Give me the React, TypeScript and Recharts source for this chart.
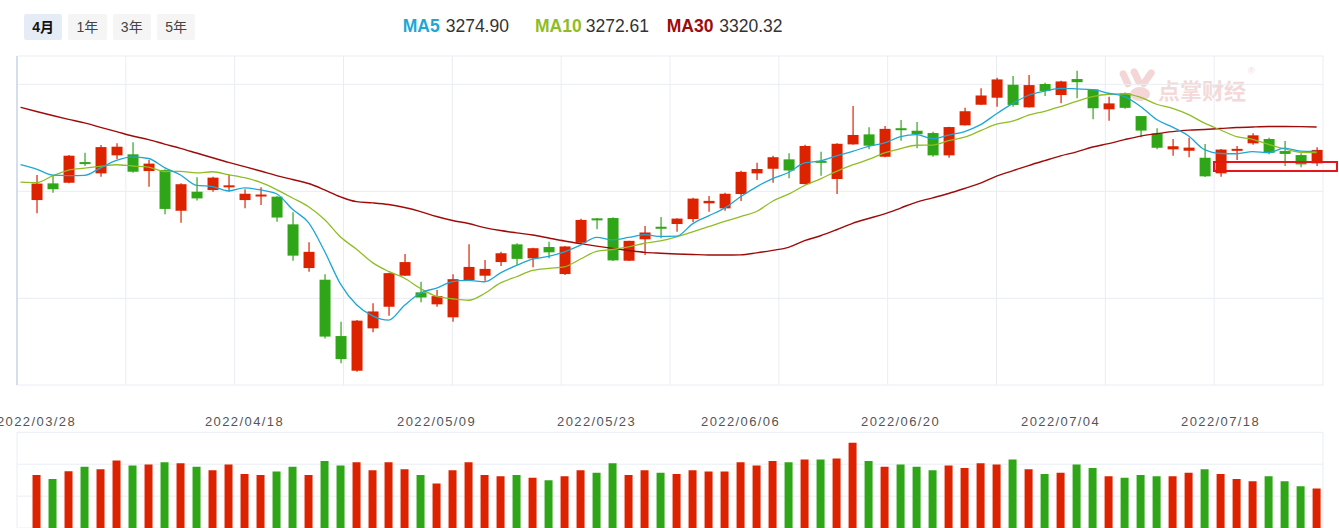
import React from 'react';
import { ComposedChart, Bar, Line, XAxis, YAxis, CartesianGrid, Cell, ReferenceLine } from 'recharts';

// ---- data (Shanghai index daily candles, 2022/03/28 - 2022/07/26) ----
const dates = [
  '2022/03/28','2022/03/29','2022/03/30','2022/03/31','2022/04/01','2022/04/06','2022/04/07','2022/04/08','2022/04/11','2022/04/12',
  '2022/04/13','2022/04/14','2022/04/15','2022/04/18','2022/04/19','2022/04/20','2022/04/21','2022/04/22','2022/04/25','2022/04/26',
  '2022/04/27','2022/04/28','2022/04/29','2022/05/05','2022/05/06','2022/05/09','2022/05/10','2022/05/11','2022/05/12','2022/05/13',
  '2022/05/16','2022/05/17','2022/05/18','2022/05/19','2022/05/20','2022/05/23','2022/05/24','2022/05/25','2022/05/26','2022/05/27',
  '2022/05/30','2022/05/31','2022/06/01','2022/06/02','2022/06/06','2022/06/07','2022/06/08','2022/06/09','2022/06/10','2022/06/13',
  '2022/06/14','2022/06/15','2022/06/16','2022/06/17','2022/06/20','2022/06/21','2022/06/22','2022/06/23','2022/06/24','2022/06/27',
  '2022/06/28','2022/06/29','2022/06/30','2022/07/01','2022/07/04','2022/07/05','2022/07/06','2022/07/07','2022/07/08','2022/07/11',
  '2022/07/12','2022/07/13','2022/07/14','2022/07/15','2022/07/18','2022/07/19','2022/07/20','2022/07/21','2022/07/22','2022/07/25',
  '2022/07/26',
];

const openP = [
  3183.7, 3214.9, 3216.1, 3254.7, 3233.6, 3267.3, 3269.2, 3237.9, 3239.8, 3163.7,
  3199.3, 3202.4, 3208.0, 3183.7, 3191.8, 3190.0, 3138.3, 3056.6, 3034.8, 2929.5,
  2864.7, 2943.9, 2984.3, 3042.3, 3011.2, 2988.8, 2964.5, 3034.2, 3042.3, 3067.8,
  3100.9, 3074.8, 3095.9, 3045.4, 3103.9, 3149.5, 3150.1, 3070.3, 3110.3, 3133.8,
  3138.9, 3148.2, 3177.6, 3168.2, 3195.0, 3233.6, 3242.2, 3259.8, 3213.6, 3257.0,
  3223.0, 3287.8, 3306.5, 3264.7, 3318.0, 3313.3, 3309.0, 3267.3, 3323.4, 3361.9,
  3375.0, 3399.3, 3357.0, 3400.6, 3380.0, 3409.9, 3390.7, 3353.3, 3383.2, 3340.7,
  3308.4, 3278.5, 3275.9, 3262.8, 3233.6, 3275.9, 3289.7, 3297.8, 3275.3, 3267.8,
  3252.3,
];
const highP = [
  3230.5, 3228.6, 3267.8, 3272.2, 3286.5, 3289.7, 3291.6, 3258.5, 3241.1, 3214.9,
  3226.2, 3227.3, 3230.5, 3203.7, 3207.5, 3191.2, 3160.7, 3104.7, 3044.9, 2956.3,
  2959.4, 2990.6, 3047.9, 3082.8, 3031.1, 3015.5, 3044.9, 3100.9, 3071.6, 3087.1,
  3102.8, 3094.6, 3105.8, 3097.8, 3148.8, 3150.0, 3151.4, 3107.7, 3135.1, 3152.0,
  3149.5, 3188.0, 3191.2, 3197.4, 3238.5, 3253.5, 3266.6, 3271.0, 3287.1, 3274.0,
  3289.7, 3359.4, 3319.6, 3322.0, 3333.3, 3329.5, 3311.4, 3320.8, 3356.3, 3392.5,
  3412.3, 3415.5, 3417.4, 3403.0, 3406.7, 3425.4, 3391.0, 3376.8, 3385.0, 3341.0,
  3317.8, 3297.8, 3300.2, 3288.4, 3279.0, 3284.7, 3308.4, 3300.2, 3294.1, 3271.0,
  3282.2,
];
const lowP = [
  3158.9, 3197.4, 3214.9, 3247.3, 3227.3, 3259.8, 3234.8, 3208.6, 3157.0, 3141.3,
  3183.0, 3199.3, 3199.3, 3168.2, 3174.4, 3143.2, 3070.3, 3049.7, 2925.0, 2878.5,
  2862.8, 2936.4, 2967.5, 3041.7, 2992.5, 2984.3, 2956.3, 3033.6, 3032.9, 3060.4,
  3062.2, 3057.9, 3074.8, 3043.5, 3102.8, 3129.0, 3070.0, 3069.7, 3080.9, 3112.1,
  3124.5, 3142.0, 3161.9, 3163.7, 3181.8, 3221.1, 3216.1, 3224.3, 3213.0, 3229.2,
  3195.0, 3287.1, 3278.5, 3263.6, 3294.6, 3280.4, 3264.7, 3262.8, 3323.0, 3361.5,
  3358.1, 3358.1, 3356.5, 3378.1, 3364.5, 3373.8, 3334.6, 3332.0, 3354.5, 3300.9,
  3278.5, 3266.5, 3263.6, 3227.0, 3227.3, 3258.5, 3287.1, 3269.5, 3247.3, 3244.9,
  3247.3,
];
const closeP = [
  3214.50, 3203.94, 3266.60, 3252.20, 3282.72, 3283.43, 3236.70, 3251.85, 3167.13, 3213.33,
  3186.82, 3225.64, 3211.24, 3195.52, 3194.03, 3151.05, 3079.81, 3086.92, 2928.51, 2886.43,
  2958.28, 2975.48, 3047.06, 3067.76, 3001.56, 3004.14, 3035.84, 3058.70, 3054.99, 3084.28,
  3073.75, 3093.70, 3085.98, 3096.96, 3146.57, 3146.86, 3070.93, 3107.46, 3123.11, 3130.24,
  3149.06, 3186.43, 3182.16, 3195.46, 3236.37, 3241.76, 3263.79, 3238.95, 3284.83, 3255.55,
  3288.91, 3305.41, 3285.38, 3316.79, 3315.43, 3306.72, 3267.20, 3320.15, 3349.75, 3379.19,
  3409.21, 3361.52, 3398.62, 3387.64, 3405.43, 3404.03, 3355.35, 3364.40, 3356.08, 3313.58,
  3281.47, 3284.29, 3281.74, 3228.06, 3278.10, 3279.43, 3304.72, 3272.00, 3269.97, 3250.39,
  3277.44,
];
const volume = [
  266, 254, 278, 292, 284, 312, 296, 299, 306, 303,
  292, 281, 299, 269, 266, 277, 292, 266, 310, 296,
  306, 281, 306, 284, 266, 240, 281, 306, 266, 262,
  266, 258, 250, 262, 281, 273, 303, 266, 281, 273,
  269, 281, 277, 277, 306, 296, 310, 306, 315, 315,
  318, 367, 310, 292, 299, 292, 281, 296, 288, 303,
  299, 315, 284, 269, 273, 299, 288, 262, 258, 266,
  262, 262, 273, 284, 269, 254, 247, 262, 247, 231,
  224,
];
// moving averages: first value belongs to the session before the first candle (2022/03/25)
const ma5 = [
  3249.9, 3241.6, 3230.4, 3229.5, 3229.9, 3243.99, 3257.78, 3264.33, 3261.38, 3244.37,
  3230.49, 3211.17, 3208.95, 3200.83, 3206.51, 3202.65, 3195.50, 3166.33, 3141.47, 3088.06,
  3026.54, 2987.99, 2967.12, 2959.15, 2987.00, 3010.03, 3019.20, 3031.27, 3033.60, 3031.05,
  3047.59, 3061.51, 3073.08, 3078.54, 3086.93, 3099.39, 3114.01, 3109.46, 3113.76, 3118.99,
  3115.72, 3116.16, 3139.26, 3154.20, 3168.67, 3189.90, 3208.44, 3223.91, 3235.27, 3253.14,
  3256.98, 3266.41, 3274.73, 3284.02, 3290.41, 3302.38, 3305.95, 3298.30, 3305.26, 3311.85,
  3324.60, 3345.10, 3363.96, 3379.66, 3387.24, 3392.48, 3391.45, 3390.21, 3383.37, 3377.06,
  3358.69, 3334.18, 3319.96, 3303.43, 3277.83, 3270.73, 3270.32, 3274.41, 3272.46, 3280.84,
  3275.30, 3274.90,
];
const ma10 = [
  3217.1, 3216.2, 3229.0, 3239.8, 3243.5, 3246.7, 3249.7, 3247.4, 3245.4, 3237.1,
  3237.24, 3234.47, 3236.64, 3231.11, 3225.44, 3216.57, 3203.33, 3187.64, 3171.15, 3147.29,
  3114.60, 3091.74, 3066.73, 3050.31, 3037.53, 3018.29, 3003.60, 2999.20, 2996.38, 3009.02,
  3028.81, 3040.36, 3052.18, 3056.07, 3058.99, 3073.49, 3087.76, 3091.27, 3096.15, 3102.96,
  3107.56, 3115.09, 3124.36, 3133.98, 3143.83, 3152.81, 3162.30, 3181.58, 3194.73, 3210.91,
  3223.44, 3237.42, 3249.32, 3259.64, 3271.77, 3279.68, 3286.18, 3286.52, 3294.64, 3301.13,
  3313.49, 3325.52, 3331.13, 3342.46, 3349.54, 3358.54, 3368.27, 3377.09, 3381.51, 3382.15,
  3375.59, 3362.81, 3355.09, 3343.40, 3327.44, 3314.71, 3302.25, 3297.19, 3287.95, 3279.34,
  3273.02, 3272.61,
];
const ma30 = [
  3357.0, 3349.2, 3341.7, 3334.6, 3327.9, 3319.6, 3311.6, 3303.4, 3296.8, 3288.4,
  3280.4, 3271.6, 3262.8, 3254.2, 3246.2, 3238.0, 3229.5, 3222.1, 3214.6, 3202.8,
  3189.7, 3180.7, 3178.5, 3175.3, 3169.7, 3162.2, 3152.9, 3145.4, 3139.8, 3132.3,
  3126.7, 3122.4, 3118.3, 3112.7, 3107.1, 3102.2, 3097.6, 3093.3, 3089.5, 3086.0,
  3084.3, 3083.0, 3082.0, 3081.1, 3080.9, 3081.3, 3085.0, 3089.7, 3095.3, 3107.8,
  3117.0, 3128.2, 3140.2, 3149.3, 3158.0, 3168.8, 3180.0, 3187.7, 3195.9, 3205.3,
  3215.3, 3228.6, 3238.3, 3248.2, 3257.4, 3266.3, 3273.8, 3282.8, 3289.3, 3296.6,
  3303.2, 3307.7, 3311.6, 3314.4, 3315.7, 3317.4, 3319.3, 3320.4, 3321.1, 3321.1,
  3320.9, 3320.32,
];

const dateTickIdx = [0, 13, 25, 35, 44, 54, 64, 74];
const priceGridTicks = [3000, 3200, 3400];
const volGridTicks = [100, 200, 300, 400];
const periodButtons = ['4月', '1年', '3年', '5年'];
const maNames = ['MA5', 'MA10', 'MA30'];

// ---- styles ----
const UP = '#dd2200';
const DOWN = '#2fa617';
const MA_COLORS = ['#1ea7d5', '#8fbd24', '#9e0b0b'];
const GRID = '#e9edf3';
const X_MIN = -1.22;
const X_MAX = 80.4;
const gridXTicks = Array.from({ length: 13 }, (_, k) => X_MIN + ((X_MAX - X_MIN) * k) / 12);

const rows = ma5.map((_, k) => {
  const i = k - 1;
  const has = i >= 0;
  return {
    i,
    ma5: ma5[k],
    ma10: ma10[k],
    ma30: ma30[k],
    open: has ? openP[i] : null,
    high: has ? highP[i] : null,
    low: has ? lowP[i] : null,
    close: has ? closeP[i] : null,
    range: has ? [lowP[i], highP[i]] : null,
    vol: has ? volume[i] : null,
  };
});

const Candle = (props: any) => {
  const { x, y, width, height, payload } = props;
  if (!payload || payload.open == null || height == null) return null;
  const { open, close, high, low } = payload;
  const span = high - low || 1;
  const py = (v: number) => y + ((high - v) / span) * height;
  const color = close >= open ? UP : DOWN;
  const top = py(Math.max(open, close));
  const bot = py(Math.min(open, close));
  const bh = Math.max(bot - top, 2);
  const cx = x + width / 2;
  return (
    <g>
      <line x1={cx} x2={cx} y1={y} y2={y + height} stroke={color} strokeWidth={1.2} />
      <rect x={x} y={top} width={width} height={bh} fill={color} />
    </g>
  );
};

export default function App() {
  const font = '"Liberation Sans", Arial, "Noto Sans CJK SC", sans-serif';
  const lastVals = [ma5[ma5.length - 1], ma10[ma10.length - 1], ma30[ma30.length - 1]];
  const legendPos = [
    [402.7, 445.7],
    [535, 585.7],
    [666.7, 719.3],
  ];
  return (
    <div
      style={{
        position: 'absolute',
        left: 0,
        top: 0,
        width: 1339,
        height: 528,
        overflow: 'hidden',
        background: '#fff',
        fontFamily: font,
      }}
    >
      {/* period buttons */}
      {periodButtons.map((t, k) => (
        <div
          key={t}
          style={{
            position: 'absolute',
            left: 24 + k * 44.3,
            top: 14,
            width: 38.3,
            height: 26,
            borderRadius: 2,
            background: k === 0 ? '#e6ecf6' : '#f5f5f5',
            color: k === 0 ? '#111' : '#444',
            fontWeight: k === 0 ? 700 : 400,
            fontSize: 14,
            lineHeight: '26px',
            textAlign: 'center',
          }}
        >
          {t}
        </div>
      ))}

      {/* MA legend */}
      {maNames.map((n, k) => (
        <React.Fragment key={n}>
          <span
            style={{
              position: 'absolute',
              left: legendPos[k][0],
              top: 16,
              fontSize: 17.5,
              fontWeight: 700,
              color: MA_COLORS[k],
              whiteSpace: 'nowrap',
            }}
          >
            {n}
          </span>
          <span
            style={{
              position: 'absolute',
              left: legendPos[k][1],
              top: 16,
              fontSize: 17.5,
              color: '#333',
              whiteSpace: 'nowrap',
            }}
          >
            {lastVals[k].toFixed(2)}
          </span>
        </React.Fragment>
      ))}

      {/* watermark */}
      <div
        style={{
          position: 'absolute',
          left: 1158,
          top: 74,
          fontSize: 22,
          fontWeight: 700,
          color: '#f4d9d9',
          whiteSpace: 'nowrap',
          fontFamily: '"Noto Sans CJK SC", sans-serif',
          lineHeight: '30px',
        }}
      >
        点掌财经
      </div>
      <div style={{ position: 'absolute', left: 1248, top: 66, fontSize: 9, color: '#f4d9d9' }}>®</div>
      <svg style={{ position: 'absolute', left: 1118, top: 66 }} width={42} height={38}>
        <g fill="#f4d6d6">
          <rect x={4} y={4} width={7} height={18} rx={3.5} transform="rotate(-25 7 13)" />
          <rect x={15} y={2} width={7} height={18} rx={3.5} transform="rotate(-25 18 11)" />
          <rect x={26} y={2} width={7} height={20} rx={3.5} transform="rotate(35 29 12)" />
          <ellipse cx={22} cy={28} rx={10} ry={7} />
        </g>
      </svg>

      {/* main candle chart */}
      <div style={{ position: 'absolute', left: 0, top: 0 }}>
        <ComposedChart width={1339} height={390} data={rows} margin={{ top: 56, right: 16, bottom: 5, left: 17 }}>
          <CartesianGrid stroke={GRID} strokeWidth={1} />
          <XAxis hide type="number" dataKey="i" domain={[X_MIN, X_MAX]} ticks={gridXTicks} interval={0} allowDataOverflow />
          <YAxis hide type="number" domain={[2838, 3453]} ticks={priceGridTicks} interval={0} allowDataOverflow />
          <ReferenceLine x={X_MIN} stroke="#cdd6e8" strokeWidth={1.5} />
          <Bar dataKey="range" barSize={11} shape={<Candle />} isAnimationActive={false} />
          <Line type="monotone" dataKey="ma30" stroke={MA_COLORS[2]} strokeWidth={1.4} dot={false} activeDot={false} isAnimationActive={false} />
          <Line type="monotone" dataKey="ma10" stroke={MA_COLORS[1]} strokeWidth={1.3} dot={false} activeDot={false} isAnimationActive={false} />
          <Line type="monotone" dataKey="ma5" stroke={MA_COLORS[0]} strokeWidth={1.3} dot={false} activeDot={false} isAnimationActive={false} />
        </ComposedChart>
      </div>

      {/* volume chart */}
      <div style={{ position: 'absolute', left: 0, top: 380 }}>
        <ComposedChart width={1339} height={190} data={rows} margin={{ top: 22.3, right: 16, bottom: 10, left: 17 }}>
          <CartesianGrid stroke={GRID} vertical={false} />
          <XAxis
            type="number"
            dataKey="i"
            orientation="top"
            domain={[X_MIN, X_MAX]}
            ticks={dateTickIdx}
            interval={0}
            allowDataOverflow
            axisLine={false}
            tickLine={false}
            tickMargin={0}
            height={30}
            tickFormatter={(v: number) => dates[v]}
            tick={{ fontSize: 13, fill: '#555', fontFamily: font, letterSpacing: 1.4 }}
          />
          <YAxis hide type="number" domain={[0, 400]} ticks={volGridTicks} interval={0} allowDataOverflow />
          <ReferenceLine x={X_MIN} stroke={GRID} />
          <ReferenceLine x={X_MAX} stroke={GRID} />
          <Bar dataKey="vol" barSize={8} isAnimationActive={false}>
            {rows.map((r) => (
              <Cell key={r.i} fill={r.close != null && r.open != null && r.close >= r.open ? UP : DOWN} />
            ))}
          </Bar>
        </ComposedChart>
      </div>

      {/* highlight box */}
      <div
        style={{
          position: 'absolute',
          left: 1212.7,
          top: 160.7,
          width: 125.6,
          height: 11,
          border: '2.7px solid #e8141c',
          boxSizing: 'border-box',
        }}
      />
    </div>
  );
}
